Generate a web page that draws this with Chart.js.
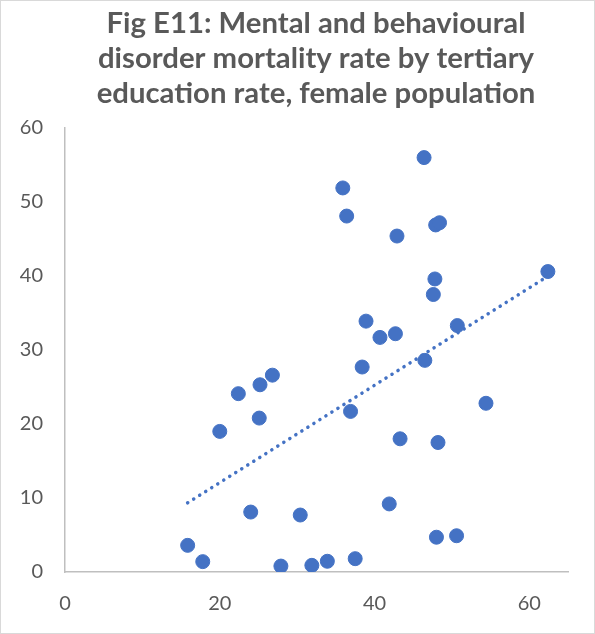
<!DOCTYPE html>
<html>
<head>
<meta charset="utf-8">
<script src="https://cdn.jsdelivr.net/npm/chart.js@4.4.1/dist/chart.umd.min.js"></script>
<style>
    html, body { margin: 0; padding: 0; background: #ffffff; }
    #wrap { position: relative; width: 595px; height: 634px; box-sizing: border-box; border: 1px solid #d9d9d9; }
    #chart { display: block; }
</style>
</head>
<body>
<div id="wrap"><canvas id="chart" width="593" height="632"></canvas></div>
<script>
// Tertiary education rate (x) vs mental/behavioural disorder mortality rate (y)
const educationRate = [15.85, 17.8, 20.0, 22.4, 25.2, 25.1, 26.8, 24.0, 27.9, 30.4,
    31.9, 33.9, 37.5, 36.9, 35.9, 36.4, 38.4, 38.9, 40.7, 42.7,
    42.9, 41.9, 43.3, 46.4, 46.5, 47.8, 47.6, 47.9, 48.4, 48.2,
    48.0, 50.6, 50.7, 54.4, 62.4];
const mortalityRate = [3.6, 1.4, 19.0, 24.1, 25.3, 20.8, 26.6, 8.1, 0.8, 7.7,
    0.9, 1.45, 1.8, 21.7, 51.9, 48.1, 27.7, 33.9, 31.7, 32.2,
    45.4, 9.2, 18.0, 56.0, 28.6, 39.6, 37.5, 46.9, 47.2, 17.5,
    4.7, 4.9, 33.3, 22.8, 40.6];
const titleLines = ['Fig E11: Mental and behavioural', 'disorder mortality rate by tertiary', 'education rate, female population'];
const xTicks = [0, 20, 40, 60];
const yTicks = [0, 10, 20, 30, 40, 50, 60];

const points = educationRate.map((x, i) => ({x: x, y: mortalityRate[i]}));

// linear trendline (least squares), drawn between min and max x like Excel
function linearTrend(xs, ys) {
    const n = xs.length;
    const mx = xs.reduce((a, b) => a + b, 0) / n;
    const my = ys.reduce((a, b) => a + b, 0) / n;
    let sxy = 0, sxx = 0;
    xs.forEach((x, i) => { sxy += (x - mx) * (ys[i] - my); sxx += (x - mx) * (x - mx); });
    const slope = sxy / sxx;
    const b = my - slope * mx;
    const x0 = Math.min(...xs), x1 = Math.max(...xs);
    return [{x: x0, y: slope * x0 + b}, {x: x1, y: slope * x1 + b}];
}

// Excel centres the title a bit right of the canvas middle, so draw it by hand
const titlePlugin = {
    id: 'excelTitle',
    afterDraw(chart) {
        const c = chart.ctx;
        c.save();
        c.fillStyle = '#595959';
        c.font = 'bold 29.3px Lato';
        c.textAlign = 'center';
        c.textBaseline = 'alphabetic';
        titleLines.forEach((line, i) => c.fillText(line, 315, 32 + i * 35));
        c.restore();
    }
};

const ctx = document.getElementById('chart').getContext('2d');
new Chart(ctx, {
    type: 'scatter',
    data: {
        datasets: [{
            label: 'Mortality rate',
            data: points,
            backgroundColor: '#4472C4',
            borderColor: '#4472C4',
            borderWidth: 1,
            pointRadius: 7,
            pointHoverRadius: 7
        }, {
            type: 'line',
            label: 'Trend',
            data: linearTrend(educationRate, mortalityRate),
            borderColor: '#4472C4',
            borderWidth: 3.5,
            borderDash: [0.1, 7],
            borderCapStyle: 'round',
            pointRadius: 0,
            fill: false
        }]
    },
    plugins: [titlePlugin],
    options: {
        responsive: false,
        animation: false,
        layout: {
            padding: {left: 0, right: 26, top: 127, bottom: 0}
        },
        plugins: {
            legend: { display: false },
            tooltip: { enabled: false },
            title: { display: false }
        },
        scales: {
            x: {
                type: 'linear',
                min: 0,
                max: 65,
                afterBuildTicks: axis => { axis.ticks = xTicks.map(v => ({value: v})); },
                afterFit: axis => { axis.height = 61; },
                grid: { display: false, drawTicks: false },
                border: { display: true, color: '#BFBFBF', width: 1.5 },
                ticks: {
                    color: '#595959',
                    font: { family: 'Lato', size: 20 },
                    padding: 20,
                    maxRotation: 0
                }
            },
            y: {
                type: 'linear',
                min: 0,
                max: 60,
                afterBuildTicks: axis => { axis.ticks = yTicks.map(v => ({value: v})); },
                afterFit: axis => { axis.width = 64; },
                grid: { display: false, drawTicks: false },
                border: { display: true, color: '#BFBFBF', width: 1.5 },
                ticks: {
                    color: '#595959',
                    font: { family: 'Lato', size: 20 },
                    padding: 22
                }
            }
        }
    }
});
</script>
</body>
</html>
